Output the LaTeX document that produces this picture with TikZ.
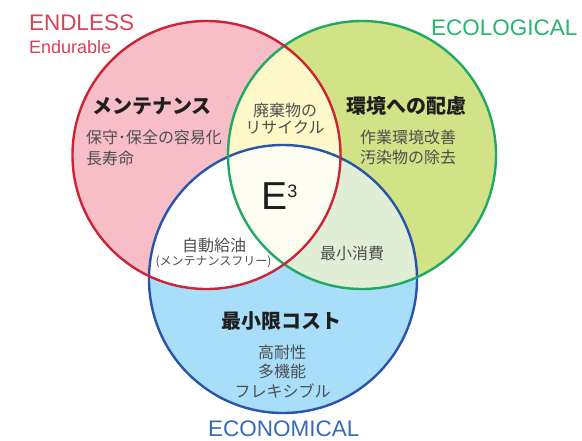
\documentclass[tikz,border=0pt]{standalone}
\usepackage{fontspec}
\setmainfont{Liberation Sans}
\newfontfamily\jp{Noto Sans CJK JP}
\definecolor{redS}{RGB}{205,35,55}
\definecolor{redF}{RGB}{247,190,200}
\definecolor{greenS}{RGB}{30,170,100}
\definecolor{greenF}{RGB}{210,226,135}
\definecolor{blueS}{RGB}{40,85,170}
\definecolor{blueF}{RGB}{168,222,250}
\definecolor{yellowF}{RGB}{255,248,200}
\definecolor{lgreenF}{RGB}{224,238,214}
\definecolor{centerF}{RGB}{254,253,242}
\definecolor{txtgray}{RGB}{78,78,78}
\definecolor{txtdark}{RGB}{30,30,30}
\definecolor{endc}{RGB}{215,65,85}
\definecolor{ecoc}{RGB}{40,180,110}
\definecolor{econc}{RGB}{55,105,190}
\begin{document}
\begin{tikzpicture}[x=1pt,y=-1pt,
  every node/.style={inner sep=0pt, outer sep=0pt},
  title/.style={font=\jp\bfseries\fontsize{20}{20}\selectfont, text=txtdark},
  body/.style={font=\jp\fontsize{16}{16}\selectfont, text=txtgray},
  small/.style={font=\jp\fontsize{12}{12}\selectfont, text=txtgray},
  big/.style={font=\fontsize{22.5}{22.5}\selectfont},
  ring/.style={line width=2.4pt}]
\useasboundingbox (0,0) rectangle (582,440);
\coordinate (R) at (206.5,155);
\coordinate (G) at (362,155);
\coordinate (B) at (283,279);
% base fills
\fill[redF] (R) circle[radius=134pt];
\fill[greenF] (G) circle[radius=134pt];
\fill[blueF] (B) circle[radius=134pt];
% overlaps
\begin{scope}
  \clip (R) circle[radius=134pt];
  \fill[yellowF] (G) circle[radius=134pt];
  \fill[white] (B) circle[radius=134pt];
\end{scope}
\begin{scope}
  \clip (G) circle[radius=134pt];
  \fill[lgreenF] (B) circle[radius=134pt];
  \clip (R) circle[radius=134pt];
  \fill[centerF] (B) circle[radius=134pt];
\end{scope}
% outlines
\draw[ring, blueS] (B) circle[radius=134pt];
\draw[ring, greenS] (G) circle[radius=134pt];
\draw[ring, redS] (R) circle[radius=134pt];
% headings
\node[big, text=endc, anchor=west] (endless) at (29,23) {ENDLESS};
\node[font=\fontsize{18}{18}\selectfont, text=endc, anchor=west] (endurable) at (29,47) {Endurable};
\node[big, text=ecoc, anchor=west] (ecological) at (431,28) {ECOLOGICAL};
\node[big, text=econc, anchor=west] (economical) at (208,428.5) {ECONOMICAL};
% red circle
\node[title] (mente) at (152,106) {メンテナンス};
\node[body, anchor=west] (hoshu) at (86,137) {保守･保全の容易化};
\node[body, anchor=west] (chouju) at (86,158) {長寿命};
% red-green
\node[body] (haiki) at (285,110) {廃棄物の};
\node[body] (recycle) at (285,127) {リサイクル};
% green circle
\node[title] (kankyo) at (406,106) {環境への配慮};
\node[body, anchor=west] (sagyo) at (360,137) {作業環境改善};
\node[body, anchor=west] (osen) at (360,157) {汚染物の除去};
% center
\node[font=\fontsize{39}{39}\selectfont, text=txtdark] (e) at (275,196) {E};
\node[font=\fontsize{18}{18}\selectfont, text=txtdark] (cube) at (292.5,191.5) {3};
% red-blue
\node[body] (jidou) at (214,245) {自動給油};
\node[small] (free) at (213.5,262) {(メンテナンスフリー)};
% green-blue
\node[body] (shouhi) at (352,253) {最小消費};
% blue circle
\node[title] (cost) at (281,321) {最小限コスト};
\node[body] (kou) at (282,352) {高耐性};
\node[body] (ta) at (282,371) {多機能};
\node[body] (flex) at (282.5,391) {フレキシブル};
\end{tikzpicture}
\end{document}
